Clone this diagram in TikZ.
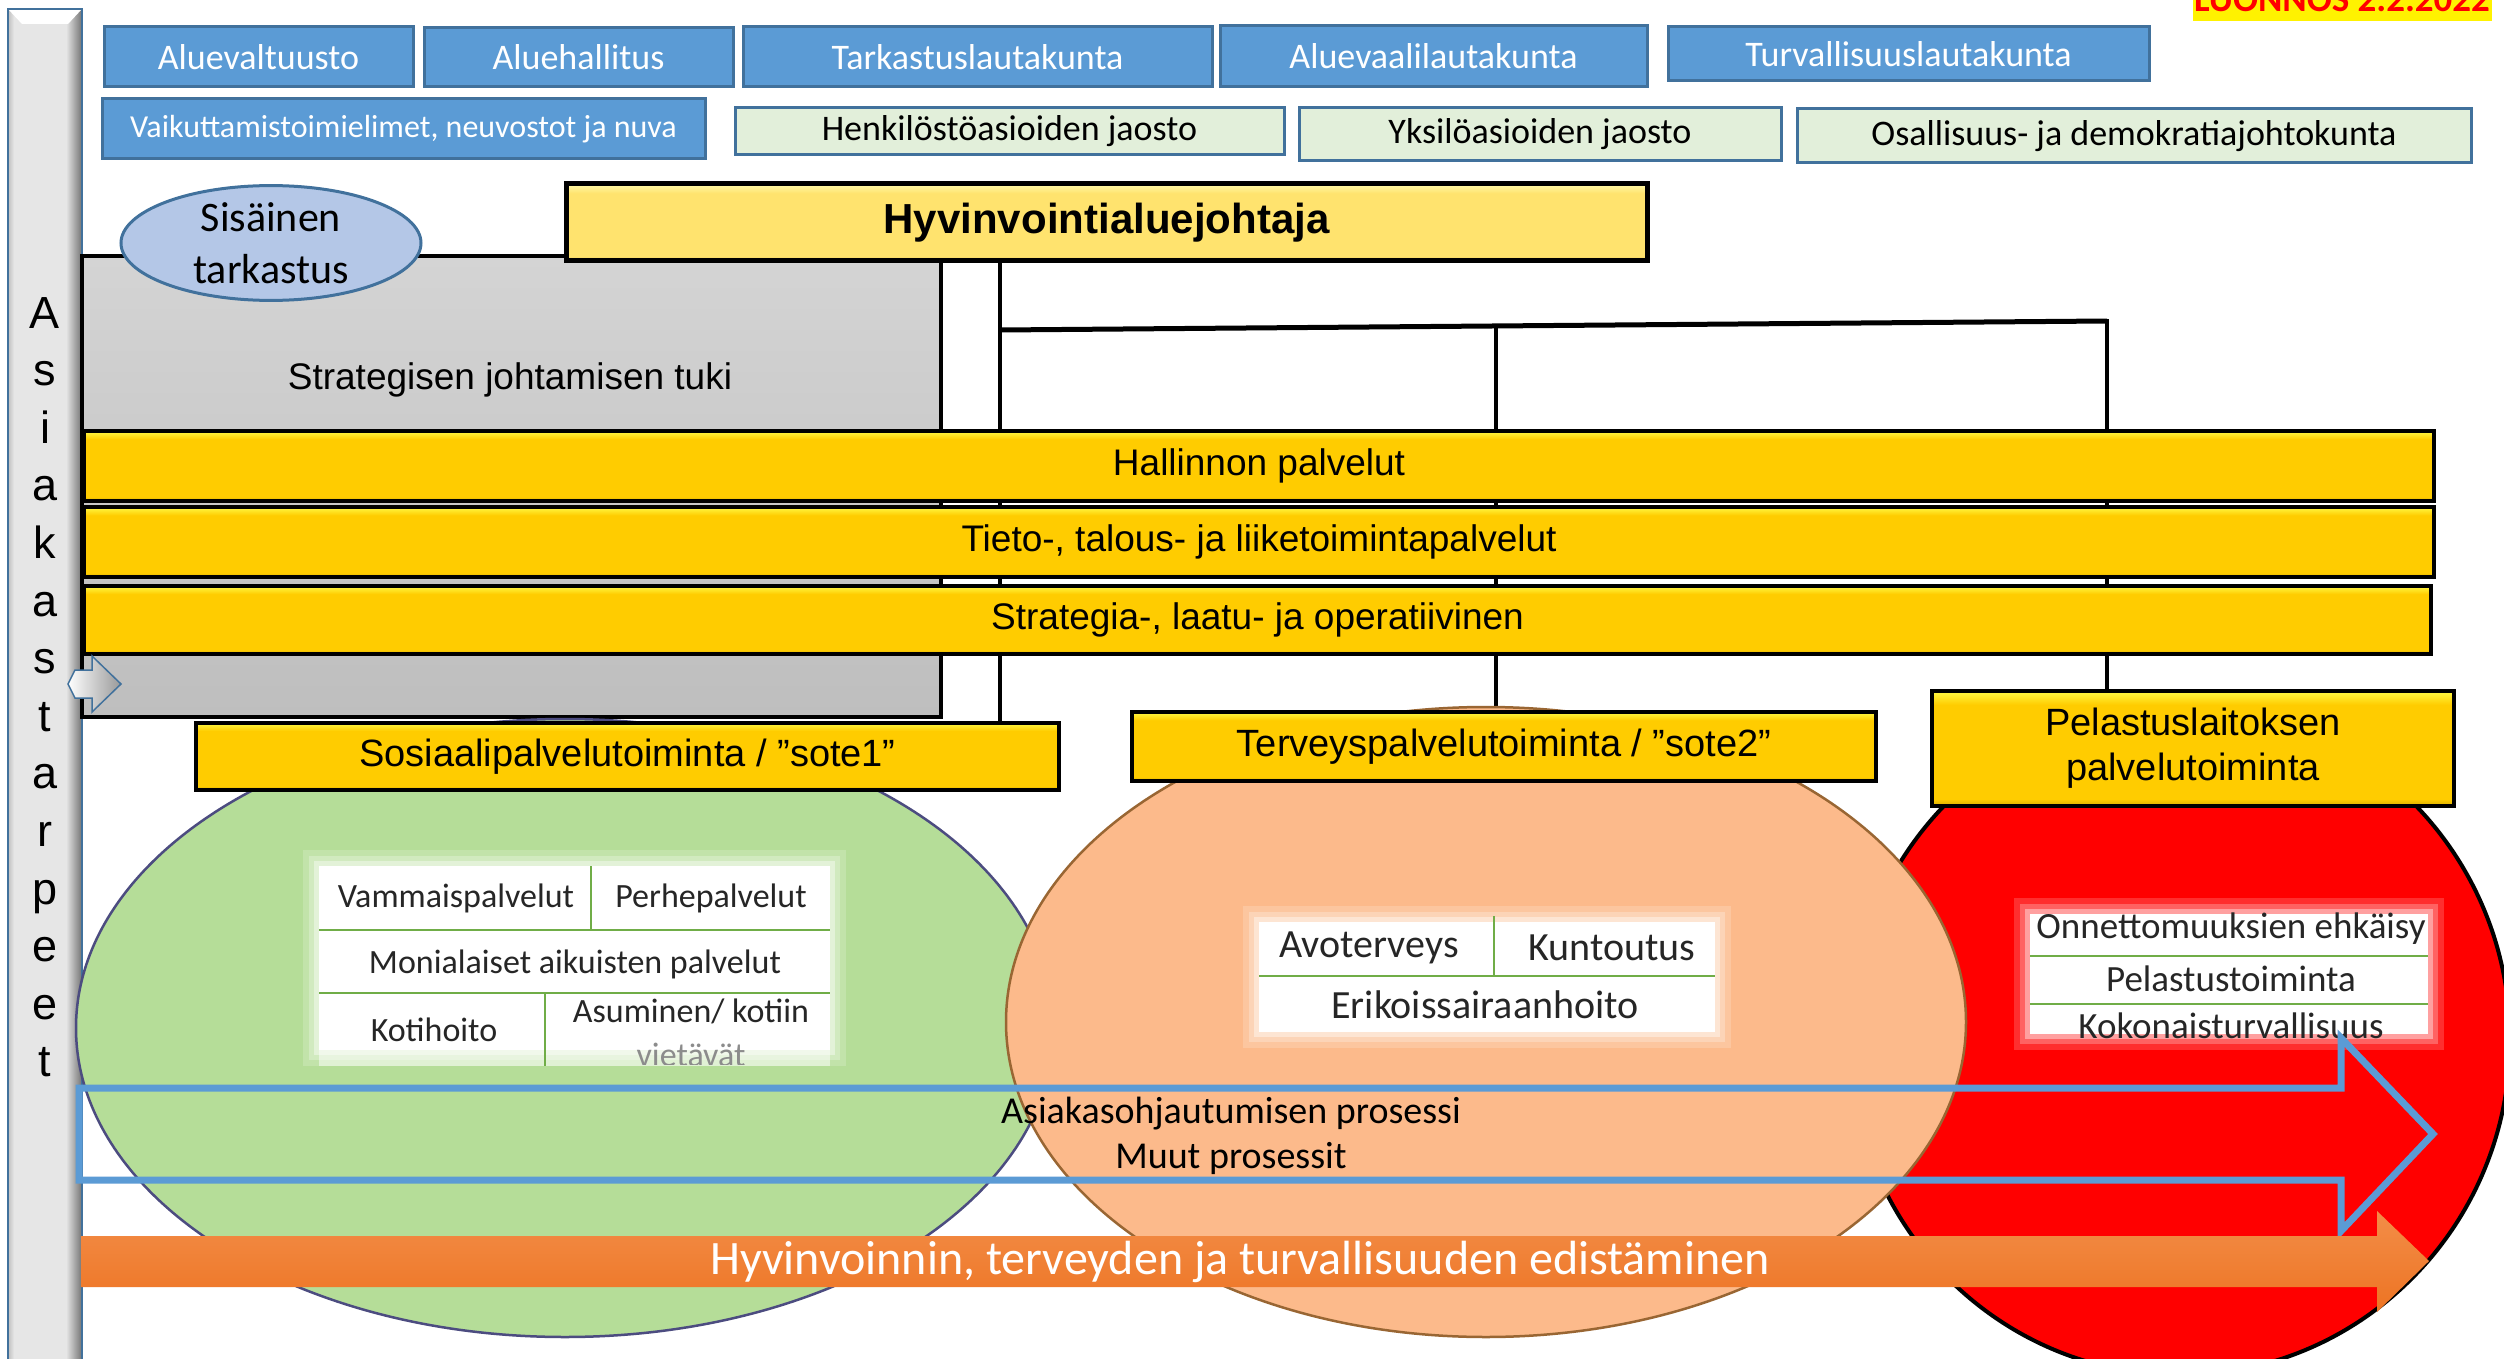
\documentclass[tikz,border=0pt]{standalone}
\usepackage{fontspec}
\setmainfont{Carlito}
\newfontfamily\arialf{Liberation Sans}
\usetikzlibrary{shapes.geometric}
\definecolor{bluebox}{HTML}{5B9BD5}
\definecolor{blueedge}{HTML}{41719C}
\definecolor{greenbox}{HTML}{E2EFDA}
\definecolor{ymain}{HTML}{FFCC00}
\definecolor{ytop}{HTML}{FFF23A}
\definecolor{ybot}{HTML}{D9AE00}
\definecolor{hmain}{HTML}{FFE36E}
\definecolor{htop}{HTML}{FFF6A0}
\definecolor{hbot}{HTML}{E0C050}
\definecolor{ellblue}{HTML}{B4C7E7}
\definecolor{greenell}{HTML}{B5DD98}
\definecolor{peachell}{HTML}{FCBA8B}
\definecolor{tabline}{HTML}{70AD47}
\definecolor{txt}{HTML}{262626}
\definecolor{procblue}{HTML}{5B9BD5}
\definecolor{orangetop}{HTML}{F38D48}
\definecolor{orangebot}{HTML}{ED7423}
\definecolor{barfill}{HTML}{E6E6E6}
\definecolor{greytop}{HTML}{D4D4D4}
\definecolor{greybot}{HTML}{BEBEBE}
\pgfdeclareverticalshading{ybar}{100bp}{color(0bp)=(ybot); color(25bp)=(ybot); color(28bp)=(ymain); color(69bp)=(ymain); color(74bp)=(ytop); color(100bp)=(ytop)}
\pgfdeclareverticalshading{hbar}{100bp}{color(0bp)=(hbot); color(25bp)=(hbot); color(28bp)=(hmain); color(69bp)=(hmain); color(74bp)=(htop); color(100bp)=(htop)}
\pgfdeclarelayer{lower}
\pgfdeclarelayer{conns}
\pgfsetlayers{lower,conns,main}
\newcommand\softwhite[4]{%
  \fill[white, opacity=0.18] ({#1-16},{#2-16}) rectangle ({#3+16},{#4+16});
  \fill[white, opacity=0.25] ({#1-10},{#2-10}) rectangle ({#3+10},{#4+10});
  \fill[white, opacity=0.4] ({#1-5},{#2-5}) rectangle ({#3+5},{#4+5});
  \fill[white] (#1,#2) rectangle (#3,#4);}
\tikzset{
  topbox/.style={draw=blueedge, line width=3pt, fill=bluebox, text=white, inner sep=0pt, outer sep=0pt, font=\fontsize{36}{43}\selectfont},
  jbox/.style={draw=blueedge, line width=3pt, fill=greenbox, text=black, inner sep=0pt, outer sep=0pt, font=\fontsize{36}{43}\selectfont},
  ybarbox/.style={draw=black, line width=4.5pt, shade, shading=ybar, inner sep=0pt, outer sep=0pt, align=center, font=\arialf\fontsize{37}{45}\selectfont},
  conn/.style={draw=black, line width=4pt},
  tabtext/.style={text=txt, inner sep=0pt},
  tabrule/.style={draw=tabline, line width=2pt},
  letter/.style={anchor=base, inner sep=0pt, font=\arialf\fontsize{45}{54}\selectfont},
}
\begin{document}
\begin{tikzpicture}[x=1pt,y=-1pt]
\useasboundingbox (0,0) rectangle (2504,1359);
\begin{pgfonlayer}{lower}
\fill[white] (0,0) rectangle (2504,1359);
% left bar
\fill[barfill] (8,9) rectangle (82,1365);
\shade[left color=barfill, right color=black!55] (66,9) rectangle (82,1365);
\shade[left color=black!25, right color=barfill] (8,9) rectangle (14,1365);
\fill[white] (8,9) -- (82,9) -- (68,24) -- (22,24) -- cycle;
\draw[blueedge, line width=1.5pt] (8,1365) -- (8,9) -- (82,9) -- (82,1365);
% grey support box
\node[draw=black, line width=4.5pt, top color=greytop, bottom color=greybot, minimum width=859pt, minimum height=461pt, inner sep=0pt] (grey) at (511.5,486.5) {};
\end{pgfonlayer}

% vertical text
\foreach \l [count=\i from 0] in {A,s,i,a,k,a,s,t,a,r,p,e,e,t}
  \node[letter] (L\i) at (45,{328+57.6*\i}) {\l};

\node[font=\arialf\fontsize{37}{44}\selectfont, inner sep=0pt] (sjt) at (510,380) {Strategisen johtamisen tuki};

% top boxes
\node[topbox, minimum width=309pt, minimum height=60pt] (b1) at (258.5,57) {Aluevaltuusto};
\node[topbox, minimum width=309pt, minimum height=59pt] (b2) at (578.5,57.5) {Aluehallitus};
\node[topbox, minimum width=469pt, minimum height=60pt] (b3) at (977.5,57) {Tarkastuslautakunta};
\node[topbox, minimum width=427pt, minimum height=61pt] (b4) at (1433.5,56.5) {Aluevaalilautakunta};
\node[topbox, minimum width=481pt, minimum height=54pt] (b5) at (1908.5,54) {Turvallisuuslautakunta};
\node[topbox, minimum width=603pt, minimum height=60pt, font=\fontsize{32}{38}\selectfont] (b6) at (403.5,129) {Vaikuttamistoimielimet, neuvostot ja nuva};
\node[jbox, minimum width=549pt, minimum height=47pt] (g1) at (1009.5,131.5) {Henkilöstöasioiden jaosto};
\node[jbox, minimum width=482pt, minimum height=53pt] (g2) at (1540,134.5) {Yksilöasioiden jaosto};
\node[jbox, minimum width=674pt, minimum height=54pt] (g3) at (2134,136) {Osallisuus- ja demokratiajohtokunta};

% LUONNOS stamp
\fill[yellow] (2193,-5) rectangle (2492,21);
\node[anchor=base, inner sep=0pt, text=red, font=\bfseries\fontsize{37}{44}\selectfont] (luo) at (2342,12) {LUONNOS 2.2.2022};

% director
\node[draw=black, line width=5pt, shade, shading=hbar, minimum width=1081pt, minimum height=77pt, inner sep=0pt, font=\arialf\bfseries\fontsize{42}{50}\selectfont] (hyv) at (1106.5,222.5) {Hyvinvointialuejohtaja};

% internal audit
\node[ellipse, draw=blueedge, line width=3pt, fill=ellblue, minimum width=300pt, minimum height=112pt, inner sep=0pt, align=center, font=\fontsize{42}{52}\selectfont] (sis) at (271,243) {Sisäinen\\tarkastus};

% horizontal service bars
\node[ybarbox, minimum width=2350pt, minimum height=70pt] (hal) at (1259,466) {Hallinnon palvelut};
\node[ybarbox, minimum width=2350pt, minimum height=70pt] (tie) at (1259,542) {Tieto-, talous- ja liiketoimintapalvelut};
\node[ybarbox, minimum width=2347pt, minimum height=68pt] (str) at (1257.5,620) {Strategia-, laatu- ja operatiivinen};

% ellipses
\node[ellipse, draw=black, line width=4pt, fill=red, minimum width=660pt, minimum height=670pt, inner sep=0pt] (redell) at (2180,1040) {};
\node[ellipse, draw=black!50!blue!40!gray, line width=2.5pt, fill=greenell, minimum width=978pt, minimum height=618pt, inner sep=0pt] (greenel) at (565,1028) {};
\node[ellipse, draw=brown!80!black, line width=2.5pt, fill=peachell, minimum width=960pt, minimum height=630pt, inner sep=0pt] (peachel) at (1486,1022) {};

% green table
\softwhite{319}{866}{830}{1050}
\fill[white, opacity=0.5] (319,1050) rectangle (830,1066);
\draw[tabrule] (319,930) -- (830,930);
\draw[tabrule] (319,993) -- (830,993);
\draw[tabrule] (591,866) -- (591,930);
\draw[tabrule] (545,993) -- (545,1066);
\begin{scope}[every node/.style={tabtext, font=\fontsize{34}{40}\selectfont}]
\node (t1) at (456,898) {Vammaispalvelut};
\node (t2) at (711,898) {Perhepalvelut};
\node (t3) at (575,964) {Monialaiset aikuisten palvelut};
\node (t4) at (434,1030) {Kotihoito};
\node (t5) at (691,1011) {Asuminen/ kotiin};
\begin{scope}
\clip (546,1036) rectangle (830,1064);
\node[text=black!45] (t6) at (691,1055) {vietävät};
\end{scope}
\end{scope}

% peach table
\softwhite{1259}{922}{1715}{1032}
\draw[tabrule] (1259,976) -- (1715,976);
\draw[tabrule] (1494,916) -- (1494,976);
\begin{scope}[every node/.style={tabtext, font=\fontsize{40}{48}\selectfont}]
\node (p1) at (1369,948) {Avoterveys};
\node (p2) at (1612,948) {Kuntoutus};
\node (p3) at (1485,1005) {Erikoissairaanhoito};
\end{scope}

% red table
\softwhite{2030}{914}{2428}{1034}
\draw[tabrule] (2030,956) -- (2428,956);
\draw[tabrule] (2030,1004) -- (2428,1004);
\begin{scope}[every node/.style={tabtext, font=\fontsize{37}{44}\selectfont}]
\node (r1) at (2231,929) {Onnettomuuksien ehkäisy};
\node (r2) at (2231,979) {Pelastustoiminta};
\begin{scope}
\clip (2020,1008) rectangle (2440,1040);
\node (r3) at (2231,1026) {Kokonaisturvallisuus};
\end{scope}
\end{scope}

% service area boxes
\node[ybarbox, font=\arialf\fontsize{38}{45}\selectfont, minimum width=863pt, minimum height=67pt] (sos) at (627.5,756.5) {Sosiaalipalvelutoiminta / ”sote1”};
\node[ybarbox, font=\arialf\fontsize{38}{45}\selectfont, minimum width=744pt, minimum height=69pt] (ter) at (1504,746.5) {Terveyspalvelutoiminta / ”sote2”};
\node[ybarbox, font=\arialf\fontsize{38}{45}\selectfont, minimum width=522pt, minimum height=115pt] (pel) at (2193,748.5) {Pelastuslaitoksen\\palvelutoiminta};

% process arrow
\draw[procblue, line width=7pt, line join=miter] (79,1088) -- (2341,1088) -- (2341,1038) -- (2433,1134) -- (2341,1231) -- (2341,1180) -- (79,1180) -- cycle;
\node[inner sep=0pt, font=\fontsize{38}{45}\selectfont] (pr1) at (1231,1114) {Asiakasohjautumisen prosessi};
\node[inner sep=0pt, font=\fontsize{38}{45}\selectfont] (pr2) at (1231,1158) {Muut prosessit};

% promotion arrow
\shade[top color=orangetop, bottom color=orangebot] (81,1236) -- (2377,1236) -- (2377,1211) -- (2429,1261) -- (2377,1312) -- (2377,1287) -- (81,1287) -- cycle;
\node[inner sep=0pt, text=white, font=\fontsize{48}{56}\selectfont] (prom) at (1240,1262) {Hyvinvoinnin, terveyden ja turvallisuuden edistäminen};

% small entry arrow on the left bar
\draw[blueedge, line width=1.5pt, shade, left color=white, right color=black!40] (68,684) -- (75,670) -- (92,670) -- (92,656) -- (121,684) -- (92,712) -- (92,698) -- (75,698) -- cycle;

% connectors
\begin{pgfonlayer}{conns}
\coordinate (j1) at (1000,330);
\coordinate (j2) at (1496,326);
\coordinate (j3) at (2107,321);
\draw[conn] (hyv.south -| j1) -- (sos.north -| j1);
\draw[conn, line width=5pt] (j1) -- (j3);
\draw[conn] (j2) -- (ter.north -| j2);
\draw[conn] ([yshift=2pt]j3) -- (pel.north -| j3);
\end{pgfonlayer}
\end{tikzpicture}
\end{document}
